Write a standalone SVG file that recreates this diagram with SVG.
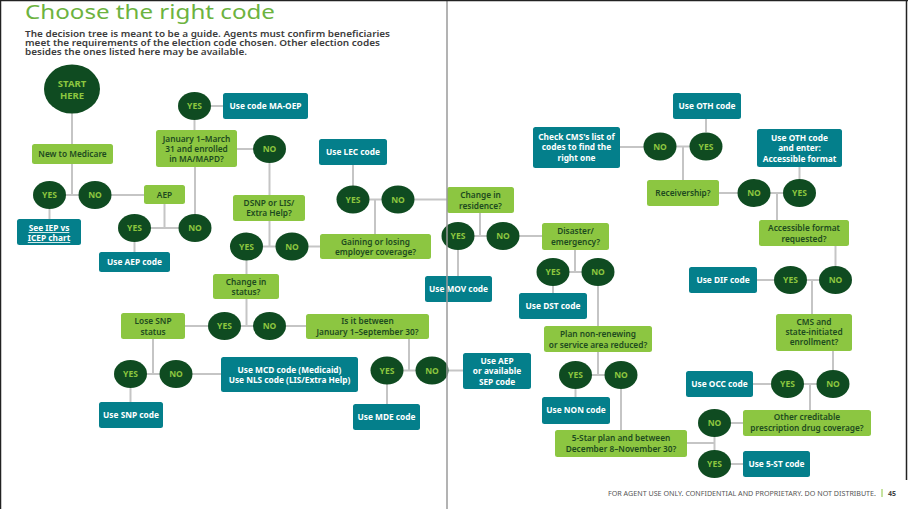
<svg xmlns="http://www.w3.org/2000/svg" width="908" height="509" viewBox="0 0 908 509">
<style>
.g{fill:#8cc641}
.t{fill:#047f8b}
.c{fill:#0f4b21}
.ln{stroke:#c5c5c5;stroke-width:2;fill:none}
text{font-family:"Noto Sans","Open Sans","Liberation Sans",sans-serif;text-anchor:middle}
.tg{fill:#1d4a1f;font-size:8.3px;font-weight:600}
.tt{fill:#ffffff;font-size:8.3px;font-weight:700}
.tc{fill:#8dc63f;font-size:8.5px;font-weight:700}
.sub{text-anchor:start;font-size:9px;fill:#3c3c3c;font-weight:600}
</style>
<rect x="0" y="0" width="908" height="509" fill="#ffffff"/>
<text x="25" y="19" style="text-anchor:start;font-size:20px;fill:#6db33f" textLength="250" lengthAdjust="spacingAndGlyphs">Choose the right code</text>
<text class="sub" x="25" y="37" textLength="365" lengthAdjust="spacingAndGlyphs">The decision tree is meant to be a guide. Agents must confirm beneficiaries</text>
<text class="sub" x="25" y="46" textLength="355" lengthAdjust="spacingAndGlyphs">meet the requirements of the election code chosen. Other election codes</text>
<text class="sub" x="25" y="55" textLength="222" lengthAdjust="spacingAndGlyphs">besides the ones listed here may be available.</text>

<g id="connectors" class="ln">
<path d="M72,113V144"/>
<path d="M72,164V195M49.5,195H95"/>
<path d="M49.5,209V219"/>
<path d="M111,195H144"/>
<path d="M164.5,204V228M134.5,228H195"/>
<path d="M134.5,242V252"/>
<path d="M195,214V167"/>
<path d="M194.5,130V120"/>
<path d="M211,106H223"/>
<path d="M237,149H253"/>
<path d="M269.5,163V195"/>
<path d="M269.5,221V246.5M246.5,246.5H292"/>
<path d="M308,246.5H320"/>
<path d="M375,234V199.5M353,199.5H398"/>
<path d="M353,186V165"/>
<path d="M414,199.5H447"/>
<path d="M246.5,260V274"/>
<path d="M246.5,299V326M224.5,326H269.5"/>
<path d="M208,326H185"/>
<path d="M153,339V374M130.5,374H176"/>
<path d="M130.5,388V402"/>
<path d="M192,374H221"/>
<path d="M286,326H306"/>
<path d="M409,339V370.5M387,370.5H432"/>
<path d="M387,384V404"/>
<path d="M448,370.5H463"/>
<path d="M480,213V236M458,236H503"/>
<path d="M458,250V276"/>
<path d="M519,236H542"/>
<path d="M575,250V272M553,272H598"/>
<path d="M553,286V293"/>
<path d="M598,286V326"/>
<path d="M598,352V375M575.5,375H621"/>
<path d="M575.5,389V397"/>
<path d="M621,389V430"/>
<path d="M687,443H714.5M714.5,423V464"/>
<path d="M731,423H743"/>
<path d="M731,464H743"/>
<path d="M810,410V384M787.5,384H833"/>
<path d="M753,384H771"/>
<path d="M833,370V351"/>
<path d="M812,314V280M790.5,280H835.5"/>
<path d="M757,280H774"/>
<path d="M835.5,266V246"/>
<path d="M777,220V193M754,193H799.5"/>
<path d="M799.5,179V167"/>
<path d="M738,193H719"/>
<path d="M683,180V146.5M660,146.5H706"/>
<path d="M706,132V119"/>
<path d="M644,147H620"/>
</g>

<g id="start"><ellipse class="c" cx="72" cy="89" rx="28" ry="24.5"/><text class="tc" x="72" y="86.5" style="font-size:9.5px">START</text><text class="tc" x="72" y="98.5" style="font-size:9.5px">HERE</text></g>

<g id="new-medicare"><rect class="g" x="32" y="144" width="81" height="20" rx="2.5"/><text class="tg" x="72.5" y="157">New to Medicare</text></g>
<g id="jan-march"><rect class="g" x="156" y="130" width="81" height="37" rx="2.5"/><text class="tg" x="196.5" y="142">January 1–March</text><text class="tg" x="196.5" y="152">31 and enrolled</text><text class="tg" x="196.5" y="162">in MA/MAPD?</text></g>
<g id="aep"><rect class="g" x="144" y="185" width="41" height="19" rx="2.5"/><text class="tg" x="164.5" y="197.5">AEP</text></g>
<g id="dsnp"><rect class="g" x="233" y="195" width="72" height="26" rx="2.5"/><text class="tg" x="269" y="206">DSNP or LIS/</text><text class="tg" x="269" y="216">Extra Help?</text></g>
<g id="gaining"><rect class="g" x="320" y="234" width="111" height="25" rx="2.5"/><text class="tg" x="375.5" y="245">Gaining or losing</text><text class="tg" x="375.5" y="255">employer coverage?</text></g>
<g id="change-status"><rect class="g" x="213" y="274" width="66" height="25" rx="2.5"/><text class="tg" x="246" y="285">Change in</text><text class="tg" x="246" y="295">status?</text></g>
<g id="lose-snp"><rect class="g" x="121" y="313" width="64" height="26" rx="2.5"/><text class="tg" x="153" y="324">Lose SNP</text><text class="tg" x="153" y="335">status</text></g>
<g id="is-between"><rect class="g" x="306" y="314" width="123" height="25" rx="2.5"/><text class="tg" x="367.5" y="324">Is it between</text><text class="tg" x="367.5" y="335">January 1–September 30?</text></g>
<g id="change-residence"><rect class="g" x="447" y="187" width="67" height="26" rx="2.5"/><text class="tg" x="480.5" y="198">Change in</text><text class="tg" x="480.5" y="209">residence?</text></g>
<g id="disaster"><rect class="g" x="542" y="223" width="67" height="27" rx="2.5"/><text class="tg" x="575.5" y="234">Disaster/</text><text class="tg" x="575.5" y="245">emergency?</text></g>
<g id="plan-non-renewing"><rect class="g" x="544" y="326" width="108" height="26" rx="2.5"/><text class="tg" x="598" y="337">Plan non-renewing</text><text class="tg" x="598" y="348">or service area reduced?</text></g>
<g id="five-star"><rect class="g" x="555" y="430" width="132" height="27" rx="2.5"/><text class="tg" x="621" y="441">5-Star plan and between</text><text class="tg" x="621" y="452">December 8–November 30?</text></g>
<g id="receivership"><rect class="g" x="647" y="180" width="72" height="26" rx="2.5"/><text class="tg" x="683" y="196">Receivership?</text></g>
<g id="accessible"><rect class="g" x="759" y="220" width="90" height="26" rx="2.5"/><text class="tg" x="804" y="231">Accessible format</text><text class="tg" x="804" y="242">requested?</text></g>
<g id="cms-state"><rect class="g" x="776" y="314" width="76" height="37" rx="2.5"/><text class="tg" x="814" y="325">CMS and</text><text class="tg" x="814" y="335">state-initiated</text><text class="tg" x="814" y="345">enrollment?</text></g>
<g id="other-creditable"><rect class="g" x="743" y="410" width="128" height="26" rx="2.5"/><text class="tg" x="807" y="420">Other creditable</text><text class="tg" x="807" y="431">prescription drug coverage?</text></g>

<g id="ma-oep"><rect class="t" x="223" y="93" width="85" height="26" rx="2.5"/><text class="tt" x="265.5" y="109">Use code MA-OEP</text></g>
<g id="see-iep"><rect class="t" x="17" y="219" width="64" height="26" rx="2.5"/><text class="tt" x="49" y="231" text-decoration="underline">See IEP vs</text><text class="tt" x="49" y="241" text-decoration="underline">ICEP chart</text></g>
<g id="use-aep"><rect class="t" x="99" y="252" width="71" height="20" rx="2.5"/><text class="tt" x="134.5" y="265">Use AEP code</text></g>
<g id="use-lec"><rect class="t" x="319" y="139" width="68" height="26" rx="2.5"/><text class="tt" x="353" y="155">Use LEC code</text></g>
<g id="use-snp"><rect class="t" x="99" y="402" width="64" height="26" rx="2.5"/><text class="tt" x="131" y="418">Use SNP code</text></g>
<g id="use-mcd"><rect class="t" x="221" y="357" width="137" height="35" rx="2.5"/><text class="tt" x="289.5" y="373">Use MCD code (Medicaid)</text><text class="tt" x="289.5" y="383">Use NLS code (LIS/Extra Help)</text></g>
<g id="use-mde"><rect class="t" x="353" y="404" width="67" height="26" rx="2.5"/><text class="tt" x="386.5" y="420">Use MDE code</text></g>
<g id="use-aep-sep"><rect class="t" x="463" y="353" width="68" height="36" rx="2.5"/><text class="tt" x="497" y="364">Use AEP</text><text class="tt" x="497" y="374">or available</text><text class="tt" x="497" y="385">SEP code</text></g>
<g id="use-mov"><rect class="t" x="425" y="276" width="67" height="26" rx="2.5"/><text class="tt" x="458.5" y="292">Use MOV code</text></g>
<g id="use-dst"><rect class="t" x="519" y="293" width="68" height="26" rx="2.5"/><text class="tt" x="553" y="309">Use DST code</text></g>
<g id="use-non"><rect class="t" x="542" y="397" width="68" height="27" rx="2.5"/><text class="tt" x="576" y="413">Use NON code</text></g>
<g id="use-5st"><rect class="t" x="743" y="451" width="67" height="26" rx="2.5"/><text class="tt" x="776.5" y="467">Use 5-ST code</text></g>
<g id="use-occ"><rect class="t" x="686" y="371" width="67" height="26" rx="2.5"/><text class="tt" x="719.5" y="387">Use OCC code</text></g>
<g id="use-dif"><rect class="t" x="689" y="267" width="68" height="26" rx="2.5"/><text class="tt" x="723" y="283">Use DIF code</text></g>
<g id="use-oth"><rect class="t" x="673" y="93" width="68" height="26" rx="2.5"/><text class="tt" x="707" y="109">Use OTH code</text></g>
<g id="use-oth-accessible"><rect class="t" x="757" y="129" width="85" height="38" rx="2.5"/><text class="tt" x="799.5" y="141">Use OTH code</text><text class="tt" x="799.5" y="151">and enter:</text><text class="tt" x="799.5" y="162">Accessible format</text></g>
<g id="check-cms"><rect class="t" x="533" y="127" width="87" height="41" rx="2.5"/><text class="tt" x="576.5" y="140">Check CMS's list of</text><text class="tt" x="576.5" y="150">codes to find the</text><text class="tt" x="576.5" y="161">right one</text></g>

<g id="yes-a"><ellipse class="c" cx="194.5" cy="106" rx="16.5" ry="14"/><text class="tc" x="194.5" y="109">YES</text></g>
<g id="no-a"><ellipse class="c" cx="269.5" cy="149" rx="16.5" ry="14"/><text class="tc" x="269.5" y="152">NO</text></g>
<g id="yes-1"><ellipse class="c" cx="49.5" cy="195" rx="16.5" ry="14"/><text class="tc" x="49.5" y="198">YES</text></g>
<g id="no-1"><ellipse class="c" cx="95" cy="195" rx="16.5" ry="14"/><text class="tc" x="95" y="198">NO</text></g>
<g id="yes-2"><ellipse class="c" cx="134.5" cy="228" rx="16.5" ry="14"/><text class="tc" x="134.5" y="231">YES</text></g>
<g id="no-2"><ellipse class="c" cx="195" cy="228" rx="16.5" ry="14"/><text class="tc" x="195" y="231">NO</text></g>
<g id="yes-3"><ellipse class="c" cx="353" cy="199.5" rx="16.5" ry="14"/><text class="tc" x="353" y="202.5">YES</text></g>
<g id="no-3"><ellipse class="c" cx="398" cy="199.5" rx="16.5" ry="14"/><text class="tc" x="398" y="202.5">NO</text></g>
<g id="yes-4"><ellipse class="c" cx="246.5" cy="246.5" rx="16.5" ry="14"/><text class="tc" x="246.5" y="249.5">YES</text></g>
<g id="no-4"><ellipse class="c" cx="292" cy="246.5" rx="16.5" ry="14"/><text class="tc" x="292" y="249.5">NO</text></g>
<g id="yes-5"><ellipse class="c" cx="224.5" cy="326" rx="16.5" ry="14"/><text class="tc" x="224.5" y="329">YES</text></g>
<g id="no-5"><ellipse class="c" cx="269.5" cy="326" rx="16.5" ry="14"/><text class="tc" x="269.5" y="329">NO</text></g>
<g id="yes-6"><ellipse class="c" cx="130.5" cy="374" rx="16.5" ry="14"/><text class="tc" x="130.5" y="377">YES</text></g>
<g id="no-6"><ellipse class="c" cx="176" cy="374" rx="16.5" ry="14"/><text class="tc" x="176" y="377">NO</text></g>
<g id="yes-7"><ellipse class="c" cx="387" cy="370.5" rx="16.5" ry="14"/><text class="tc" x="387" y="373.5">YES</text></g>
<g id="no-7"><ellipse class="c" cx="432" cy="370.5" rx="16.5" ry="14"/><text class="tc" x="432" y="373.5">NO</text></g>
<g id="yes-8"><ellipse class="c" cx="458" cy="236" rx="16.5" ry="14"/><text class="tc" x="458" y="239">YES</text></g>
<g id="no-8"><ellipse class="c" cx="503" cy="236" rx="16.5" ry="14"/><text class="tc" x="503" y="239">NO</text></g>
<g id="yes-9"><ellipse class="c" cx="553" cy="272" rx="16.5" ry="14"/><text class="tc" x="553" y="275">YES</text></g>
<g id="no-9"><ellipse class="c" cx="598" cy="272" rx="16.5" ry="14"/><text class="tc" x="598" y="275">NO</text></g>
<g id="yes-10"><ellipse class="c" cx="575.5" cy="375" rx="16.5" ry="14"/><text class="tc" x="575.5" y="378">YES</text></g>
<g id="no-10"><ellipse class="c" cx="621" cy="375" rx="16.5" ry="14"/><text class="tc" x="621" y="378">NO</text></g>
<g id="no-11"><ellipse class="c" cx="714.5" cy="423" rx="16.5" ry="14"/><text class="tc" x="714.5" y="426">NO</text></g>
<g id="yes-11"><ellipse class="c" cx="714.5" cy="464" rx="16.5" ry="14"/><text class="tc" x="714.5" y="467">YES</text></g>
<g id="yes-12"><ellipse class="c" cx="787.5" cy="384" rx="16.5" ry="14"/><text class="tc" x="787.5" y="387">YES</text></g>
<g id="no-12"><ellipse class="c" cx="833" cy="384" rx="16.5" ry="14"/><text class="tc" x="833" y="387">NO</text></g>
<g id="yes-13"><ellipse class="c" cx="790.5" cy="280" rx="16.5" ry="14"/><text class="tc" x="790.5" y="283">YES</text></g>
<g id="no-13"><ellipse class="c" cx="835.5" cy="280" rx="16.5" ry="14"/><text class="tc" x="835.5" y="283">NO</text></g>
<g id="no-14"><ellipse class="c" cx="660" cy="146.5" rx="16.5" ry="14"/><text class="tc" x="660" y="149.5">NO</text></g>
<g id="yes-14"><ellipse class="c" cx="706" cy="146.5" rx="16.5" ry="14"/><text class="tc" x="706" y="149.5">YES</text></g>
<g id="no-15"><ellipse class="c" cx="754" cy="193" rx="16.5" ry="14"/><text class="tc" x="754" y="196">NO</text></g>
<g id="yes-15"><ellipse class="c" cx="799.5" cy="193" rx="16.5" ry="14"/><text class="tc" x="799.5" y="196">YES</text></g>

<line x1="447" y1="0" x2="447" y2="509" stroke="#9a9a9a" stroke-width="1.5"/>
<text x="608" y="496" style="text-anchor:start;font-size:6.4px;fill:#555555" textLength="268" lengthAdjust="spacingAndGlyphs">FOR AGENT USE ONLY. CONFIDENTIAL AND PROPRIETARY. DO NOT DISTRIBUTE.</text>
<line x1="882" y1="489" x2="882" y2="497" stroke="#8cc641" stroke-width="1"/>
<text x="888" y="496" style="text-anchor:start;font-size:7px;font-weight:700;fill:#444444">45</text>
<path d="M0.5,509V0.5H908" fill="none" stroke="#222222" stroke-width="1.5"/>
<line x1="906.5" y1="0" x2="906.5" y2="480" stroke="#222222" stroke-width="1.5"/>
</svg>
